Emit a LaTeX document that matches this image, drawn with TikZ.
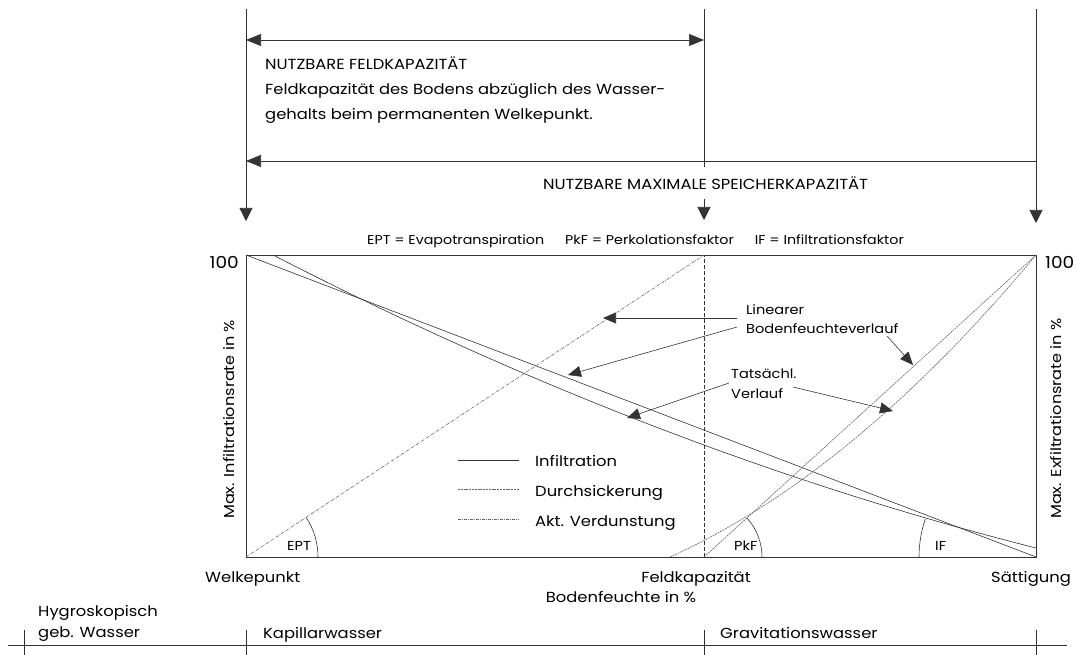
\documentclass[tikz,border=0pt]{standalone}
\usepackage{fontspec}
\setmainfont{Poppins}[FakeStretch=1.12]
\usetikzlibrary{arrows.meta}
\begin{document}
\begin{tikzpicture}[x=1pt,y=-1pt,
  ln/.style={line width=0.6pt, draw=black!80},
  vtip/.style={-{Triangle[length=13pt,width=13pt]}},
  htips/.style={{Triangle[length=15pt,width=12pt]}-{Triangle[length=15pt,width=12pt]}},
  hltip/.style={{Triangle[length=15pt,width=12pt]}-},
  ann/.style={ln, -{Triangle[length=13pt,width=11pt]}},
  perc/.style={line width=0.6pt, draw=black!60, dash pattern=on 2pt off 0.8pt},
  evap/.style={line width=0.6pt, draw=black!60, dash pattern=on 3pt off 1.2pt on 0.6pt off 1.2pt},
  fk/.style={line width=0.6pt, draw=black!80, dash pattern=on 4pt off 2pt},
  t/.style={inner sep=0pt, font=\fontsize{14.6}{16}\selectfont},
  ty/.style={inner sep=0pt, font=\fontsize{14.4}{16}\selectfont},
  ts/.style={inner sep=0pt, font=\fontsize{13}{15}\selectfont},
  tab/.style={inner sep=0pt, font=\fontsize{12.75}{15}\selectfont},
  tb/.style={inner sep=0pt, font=\fontsize{16.5}{18}\selectfont}
]
\useasboundingbox (0,0) rectangle (1077,655);
% plot frame
\coordinate (W) at (246,557);
\coordinate (F) at (704,557);
\coordinate (S) at (1036,557);
\coordinate (WT) at (246,255);
\coordinate (FT) at (704,255);
\coordinate (ST) at (1036,255);
\draw[ln] (W) rectangle (ST);
\draw[fk] (F) -- (FT);
% top arrows
\coordinate (L0) at (246,9);
\coordinate (L1) at (246,221);
\coordinate (M0) at (704,9);
\coordinate (M1) at (704,167);
\coordinate (M2) at (704,199);
\coordinate (M3) at (704,220);
\coordinate (R0) at (1036,9);
\coordinate (R1) at (1036,223);
\coordinate (A1) at (246,40);
\coordinate (A2) at (704,40);
\coordinate (B1) at (246,161);
\coordinate (B2) at (1036,161);
\draw[ln,vtip] (L0) -- (L1);
\draw[ln] (M0) -- (M1);
\draw[ln,vtip] (M2) -- (M3);
\draw[ln,vtip] (R0) -- (R1);
\draw[ln,htips] (A1) -- (A2);
\draw[ln,hltip] (B1) -- (B2);
\node[t,anchor=base west] (nfk) at (265,70) {NUTZBARE FELDKAPAZITÄT};
\node[t,anchor=base west] (nfk2) at (265,95) {Feldkapazität des Bodens abzüglich des Wasser-};
\node[t,anchor=base west] (nfk3) at (265,120) {gehalts beim permanenten Welkepunkt.};
\node[t,anchor=base west] (nmsk) at (543,190) {NUTZBARE MAXIMALE SPEICHERKAPAZITÄT};
\node[tab,anchor=base west] (abbr) at (367,245) {EPT = Evapotranspiration\hspace{21pt}PkF = Perkolationsfaktor\hspace{21pt}IF = Infiltrationsfaktor};
\node[tb,anchor=base east] (h100l) at (239,269) {100};
\node[tb,anchor=base west] (h100r) at (1045,269) {100};
\node[ty,rotate=90,anchor=base west] (ylab) at (234,519) {Max. Infiltrationsrate in \%};
\node[ty,rotate=90,anchor=base west] (ylabr) at (1061,519) {Max. Exfiltrationsrate in \%};
% curves
\coordinate (IC0) at (273,255);
\coordinate (IC1) at (1036,548);
\coordinate (PC0) at (670,557);
\draw[ln] (WT) -- (S);
\draw[ln] (IC0) .. controls (527.3,385.9) and (781.7,483.6) .. (IC1);
\draw[perc] (F) -- (ST);
\draw[perc] (PC0) .. controls (792,501.9) and (914,401.2) .. (ST);
\draw[evap] (W) -- (FT);
% angle arcs
\coordinate (EA) at (318,557);
\coordinate (PA) at (762,557);
\coordinate (IA) at (919,557);
\draw[ln] (EA) arc[start angle=0, end angle=-33.4, radius=72];
\draw[ln] (PA) arc[start angle=0, end angle=-42.3, radius=58];
\draw[ln] (IA) arc[start angle=-180, end angle=-161, radius=117];
\node[ts,anchor=base west] (ept) at (287,550) {EPT};
\node[ts,anchor=base west] (pkf) at (734,550) {PkF};
\node[ts,anchor=base west] (if) at (935,550) {IF};
% annotations
\node[ts,anchor=base west] (lin1) at (746,315) {Linearer};
\node[ts,anchor=base west] (lin2) at (746,334) {Bodenfeuchteverlauf};
\node[ts,anchor=base west] (tat1) at (731,378) {Tatsächl.};
\node[ts,anchor=base west] (tat2) at (731,398) {Verlauf};
\coordinate (Lin1) at (737,318);
\coordinate (Lin1t) at (603,318);
\coordinate (Lin2) at (737,327);
\coordinate (Lin2t) at (568,375);
\coordinate (Lin3) at (887,336);
\coordinate (Lin3t) at (913,365);
\coordinate (Tat1) at (729,383);
\coordinate (Tat1t) at (627,418);
\coordinate (Tat2) at (793,387);
\coordinate (Tat2t) at (893,411);
\draw[ann] (Lin1) -- (Lin1t);
\draw[ann] (Lin2) -- (Lin2t);
\draw[ann] (Lin3) -- (Lin3t);
\draw[ann] (Tat1) -- (Tat1t);
\draw[ann] (Tat2) -- (Tat2t);
% legend
\coordinate (G1a) at (458,460);
\coordinate (G1b) at (519,460);
\coordinate (G2a) at (458,489);
\coordinate (G2b) at (519,489);
\coordinate (G3a) at (458,519);
\coordinate (G3b) at (519,519);
\draw[ln] (G1a) -- (G1b);
\draw[perc] (G2a) -- (G2b);
\draw[evap] (G3a) -- (G3b);
\node[t,anchor=base west] (lg1) at (535,466) {Infiltration};
\node[t,anchor=base west] (lg2) at (535,496) {Durchsickerung};
\node[t,anchor=base west] (lg3) at (535,526) {Akt. Verdunstung};
% axis labels
\node[t,anchor=base west] (welk) at (205,582) {Welkepunkt};
\node[t,anchor=base] (feld) at (696,582) {Feldkapazität};
\node[t,anchor=base east] (satt) at (1071,582) {Sättigung};
\node[t,anchor=base] (bf) at (621,602) {Bodenfeuchte in \%};
% water classes
\coordinate (X0) at (8,645);
\coordinate (X1) at (1067,645);
\draw[ln] (X0) -- (X1);
\foreach \x/\n in {24/a,246/b,704/c,1036/d}{
  \coordinate (T\n0) at (\x,630);
  \coordinate (T\n1) at (\x,655);
  \draw[ln] (T\n0) -- (T\n1);
}
\node[t,anchor=base west] (hyg1) at (38,616) {Hygroskopisch};
\node[t,anchor=base west] (hyg2) at (38,637) {geb. Wasser};
\node[t,anchor=base west] (kap) at (263,638) {Kapillarwasser};
\node[t,anchor=base west] (grav) at (720,638) {Gravitationswasser};
\end{tikzpicture}
\end{document}
